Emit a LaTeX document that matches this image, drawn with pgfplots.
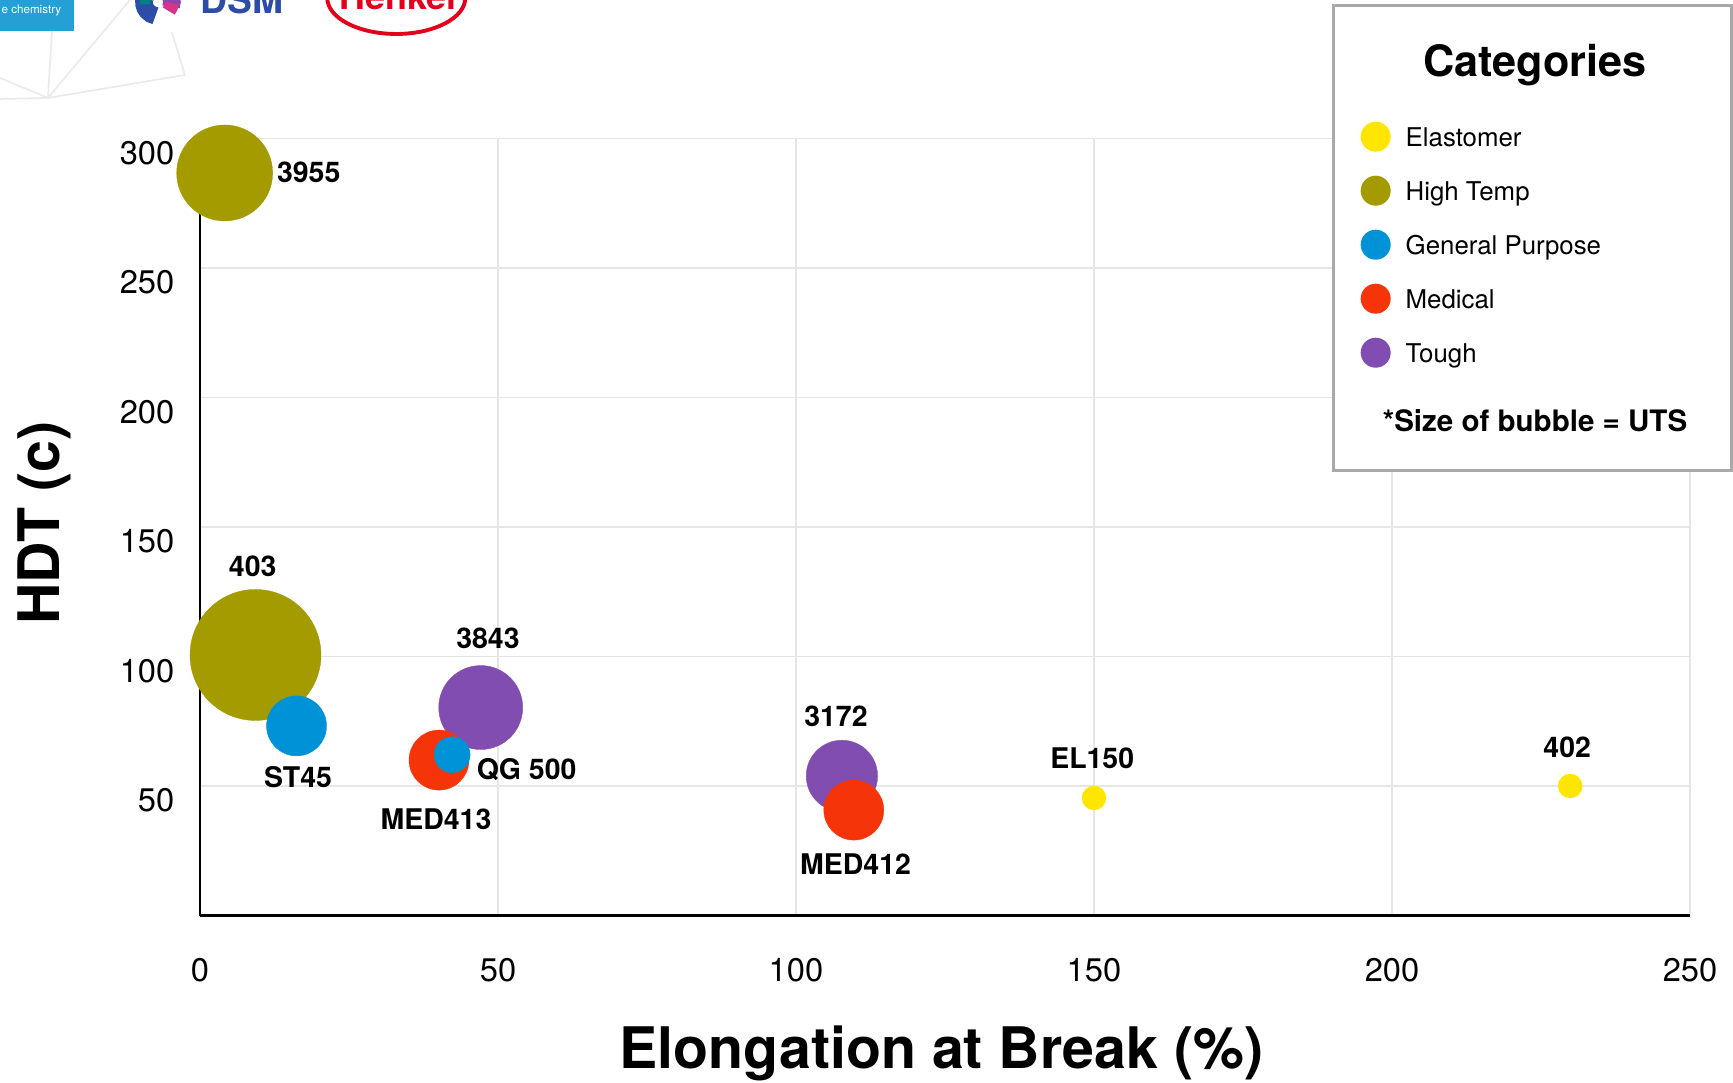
\documentclass[border=0pt]{standalone}
\usepackage{pgfplots}
\pgfplotsset{compat=1.18}
\usepackage{pgfplotstable}
\usepackage{fontspec}
\setmainfont{TeX Gyre Heros}
\definecolor{elast}{HTML}{FFE600}
\definecolor{htemp}{HTML}{A39B00}
\definecolor{gpurp}{HTML}{0092D6}
\definecolor{medic}{HTML}{F63409}
\definecolor{tough}{HTML}{824DB0}
\definecolor{gridc}{HTML}{E6E6E6}
\definecolor{boxc}{HTML}{A9A9A9}
\definecolor{lblue}{HTML}{24A0D6}
\definecolor{dsmblue}{HTML}{2B4DA5}
\definecolor{dsmgreen}{HTML}{6CC24A}
\definecolor{dsmpurple}{HTML}{8E44AD}
\definecolor{dsmmag}{HTML}{D6338A}
\definecolor{henkel}{HTML}{E2001A}

% name, elongation (%), HDT (C), bubble radius (px), category, label position
\pgfplotstableread[col sep=comma]{
name,x,y,r,cls,lx,ly
3955,4.14,286.7,48,H,18.24,282.9
403,9.31,100.6,65.5,H,8.84,130.8
ST45,16.2,73.2,30,G,16.44,49.3
3843,47.1,80.3,42,T,48.32,103.1
MED413,40.1,60.0,30,M,39.6,33.3
QG 500,42.3,62.1,18,G,54.8,52.6
3172,107.7,53.9,35.7,T,106.7,72.9
MED412,109.7,40.7,30,M,110.0,15.8
EL150,150.0,45.4,12,E,149.7,56.8
402,229.9,50.0,12,E,229.4,60.9
}\bubbles

\begin{document}
\begin{tikzpicture}
\useasboundingbox (-2,-1.665) rectangle (15.33,9.155);
\clip (-2,-1.665) rectangle (15.33,9.155);
% decorative header (logos), in pixel units of the reference
\begin{scope}[xshift=-2cm, yshift=9.155cm, x=0.01cm, y=-0.01cm]
  \draw[black!8, line width=0.5pt] (0,78)--(48,98) (0,99)--(48,98) (52,31)--(48,98)
        (48,98)--(130,0) (48,98)--(185,75)--(172,32);
  \fill[lblue] (0,-5) rectangle (74,31);
  \node[anchor=base west, inner sep=0pt, text=white, font=\fontsize{3.3}{4}\selectfont] at (1,14) {e chemistry};
  \draw[dsmblue, line width=5pt] (158,2) ++(200:14) arc (200:100:14);
  \draw[dsmpurple, line width=5pt] (158,2) ++(20:14) arc (20:-60:14);
  \draw[dsmmag, line width=4pt] (158,2) ++(40:14) arc (40:5:14);
  \draw[dsmgreen, line width=6pt] (158,2) ++(-70:15) arc (-70:-150:15);
  \draw[teal, line width=3pt] (158,2) ++(-150:13) arc (-150:-190:13);
  \node[anchor=base west, inner sep=0pt, text=dsmblue, font=\bfseries\fontsize{10.6}{12}\selectfont] at (200,14) {DSM};
  \draw[henkel, line width=1.1pt] (396.5,-2) ellipse (69 and 36);
  \node[anchor=base, inner sep=0pt, text=henkel, font=\bfseries\fontsize{10.2}{12}\selectfont] at (398.5,10) {Henkel};
\end{scope}
\begin{axis}[
  width=14.90cm, height=7.77cm, scale only axis,
  xmin=0, xmax=250, ymin=0, ymax=300,
  xtick={0,50,...,250}, ytick={50,100,...,300},
  axis lines*=left,
  axis line style={black, line width=0.7pt},
  major tick length=0pt,
  grid=major,
  grid style={gridc, line width=0.5pt},
  clip=false,
  /pgf/number format/assume math mode=true,
  tick label style={font=\fontsize{9.3}{11}\selectfont},
  xticklabel style={anchor=base, inner sep=0pt, yshift=-0.66cm},
  yticklabel style={anchor=base east, inner sep=0pt, xshift=-0.25cm, yshift=-0.258cm},
  xlabel={Elongation at Break (\%)},
  ylabel={HDT (c)},
  label style={font=\bfseries\fontsize{16.3}{19}\selectfont},
  xlabel style={at={(axis description cs:0.4977,-0.1969)}, anchor=base},
  ylabel style={at={(axis description cs:-0.094,0.5048)}, anchor=base},
  legend cell align=left,
  legend style={at={(0.7785,1.0380)}, anchor=north west, draw=none, fill=none,
    inner sep=0pt, row sep=0pt, column sep=0.15cm,
    font=\fontsize{7.35}{9}\selectfont,
    cells={anchor=west},
    nodes={inner sep=0pt, text height=0.365cm, text depth=0.175cm}},
  legend image code/.code={\fill[#1, draw=none] (0cm,0cm) circle (0.15cm);},
]
\addplot[scatter, only marks, forget plot,
  scatter src=explicit symbolic,
  scatter/classes={
    E={mark=*, color=elast},
    H={mark=*, color=htemp},
    G={mark=*, color=gpurp},
    M={mark=*, color=medic},
    T={mark=*, color=tough}},
  mark options={line width=0.1pt},
  visualization depends on={0.2845*\thisrow{r} \as \rad},
  scatter/@pre marker code/.append style={/tikz/mark size=\rad},
] table[x=x, y=y, meta=cls] {\bubbles};
\addplot[only marks, mark=none, forget plot,
  point meta=explicit symbolic,
  nodes near coords,
  every node near coord/.append style={anchor=base, inner sep=0pt, font=\bfseries\fontsize{8.1}{10}\selectfont, text=black},
] table[x=lx, y=ly, meta=name] {\bubbles};
\draw[boxc, fill=white, line width=0.85pt] (rel axis cs:0.7604,0.5721) rectangle (rel axis cs:1.0279,1.1718);
\node[anchor=base, inner sep=0pt, font=\bfseries\fontsize{12.3}{14}\selectfont] at (rel axis cs:0.8960,1.0804) {Categories};
\node[anchor=base, inner sep=0pt, font=\bfseries\fontsize{8.4}{10}\selectfont] at (rel axis cs:0.8960,0.6223) {*Size of bubble = UTS};
\addlegendimage{fill=elast}\addlegendentry{Elastomer}
\addlegendimage{fill=htemp}\addlegendentry{High Temp}
\addlegendimage{fill=gpurp}\addlegendentry{General Purpose}
\addlegendimage{fill=medic}\addlegendentry{Medical}
\addlegendimage{fill=tough}\addlegendentry{Tough}
\end{axis}
\end{tikzpicture}
\end{document}
